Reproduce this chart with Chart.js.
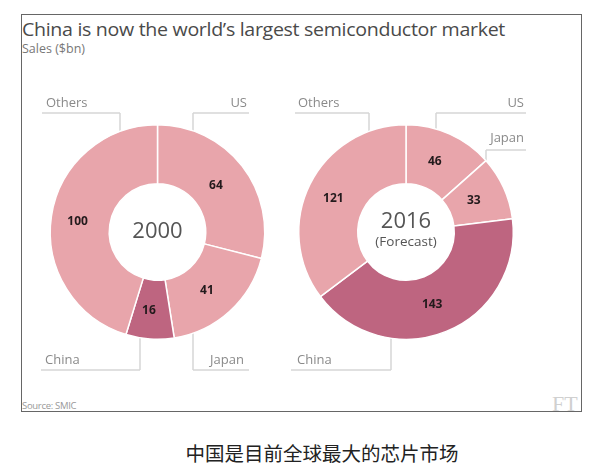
<!DOCTYPE html>
<html>
<head>
<meta charset="utf-8">
<script src="https://cdn.jsdelivr.net/npm/chart.js@4/dist/chart.umd.min.js"></script>
<style>
  html,body{margin:0;padding:0;background:#fff;}
  body{width:600px;height:468px;position:relative;overflow:hidden;font-family:"Open Sans",sans-serif;}
  #box{position:absolute;left:21px;top:14px;width:559px;height:396px;border:1.5px solid #666;box-sizing:content-box;}
  .t{position:absolute;white-space:nowrap;}
  #title{left:22px;top:16px;font-size:19px;color:#4a4a4a;transform-origin:0 0;letter-spacing:-0.3px;}
  #sub{left:22px;top:40px;font-size:12.5px;color:#777;}
  #src{left:22px;top:399px;font-size:9.5px;color:#999;letter-spacing:-0.3px;}
  #ft{left:552px;top:391px;font-family:"Liberation Serif",serif;font-size:22px;color:#d0d0d0;}
  #cap{left:0;width:644px;text-align:center;top:438px;font-family:"Noto Sans CJK SC",sans-serif;font-size:19.5px;color:#222;}
  canvas{position:absolute;top:0;}
</style>
</head>
<body>
<div id="box"></div>
<div class="t" id="title">China is now the world’s largest semiconductor market</div>
<div class="t" id="sub">Sales ($bn)</div>
<div class="t" id="src">Source: SMIC</div>
<div class="t" id="ft">FT</div>
<div class="t" id="cap">中国是目前全球最大的芯片市场</div>
<canvas id="c1" width="290" height="468" style="left:0"></canvas>
<canvas id="c2" width="310" height="468" style="left:290px"></canvas>
<script>
// ---- data ----
const regions = ["US", "Japan", "China", "Others"];
const sales2000 = [64, 41, 16, 100];
const sales2016 = [46, 33, 143, 121];
const centerText2000 = ["2000"];
const centerText2016 = ["2016", "(Forecast)"];

const LIGHT = "#e8a5ab";
const DARK = "#be6580";
const colors = regions.map(r => r === "China" ? DARK : LIGHT);

// fit title width
(function(){
  const t = document.getElementById("title");
  const w = t.getBoundingClientRect().width;
  t.style.transform = "scaleX(" + (483 / w) + ")";
})();

// label annotation layout (text position, underline, vertical leader x)
const layout1 = [
  {name:"Others", tx:46, ty:103, align:"left", lx0:42, lx1:120, ly:113, vx:120, dir:1},
  {name:"US", tx:247, ty:103, align:"right", lx0:193, lx1:249, ly:113, vx:193, dir:1},
  {name:"China", tx:45, ty:360, align:"left", lx0:41, lx1:140, ly:370, vx:140, dir:-1},
  {name:"Japan", tx:210, ty:360, align:"left", lx0:193, lx1:249, ly:370, vx:193, dir:-1}
];
const layout2 = [
  {name:"Others", tx:298, ty:103, align:"left", lx0:295, lx1:369, ly:113, vx:369, dir:1},
  {name:"US", tx:524, ty:103, align:"right", lx0:436, lx1:526, ly:113, vx:436, dir:1},
  {name:"Japan", tx:524, ty:138, align:"right", lx0:486, lx1:526, ly:150, vx:486, dir:1},
  {name:"China", tx:297, ty:360, align:"left", lx0:291, lx1:391, ly:370, vx:391, dir:-1}
];

const annot = {
  id: "annot",
  beforeDatasetsDraw(chart, args, opts) {
    const ctx = chart.ctx;
    const arc = chart.getDatasetMeta(0).data[0];
    const cx = arc.x, cy = arc.y, R = arc.outerRadius;
    const off = opts.offsetX;
    ctx.save();
    ctx.strokeStyle = "#d6d6d6";
    ctx.lineWidth = 1.5;
    ctx.font = "13px 'Open Sans', sans-serif";
    ctx.fillStyle = "#8a8a8a";
    ctx.textBaseline = "middle";
    opts.items.forEach(it => {
      const vx = it.vx - off;
      const dx = vx - cx;
      const depth = Math.sqrt(Math.max(R*R - dx*dx, 0)) - 6;
      const ey = cy - it.dir * depth;
      ctx.beginPath();
      ctx.moveTo(it.lx0 - off, it.ly);
      ctx.lineTo(it.lx1 - off, it.ly);
      ctx.moveTo(vx, it.ly);
      ctx.lineTo(vx, ey);
      ctx.stroke();
      ctx.textAlign = it.align;
      ctx.fillText(it.name, it.tx - off, it.ty);
    });
    ctx.restore();
  },
  afterDatasetsDraw(chart, args, opts) {
    const ctx = chart.ctx;
    const meta = chart.getDatasetMeta(0);
    const data = chart.data.datasets[0].data;
    ctx.save();
    ctx.textAlign = "center";
    ctx.textBaseline = "middle";
    ctx.fillStyle = "#231a1c";
    ctx.font = "bold 12px 'Open Sans', sans-serif";
    meta.data.forEach((a, i) => {
      const p = a.tooltipPosition();
      ctx.fillText(String(data[i]), p.x - 3, p.y + 1);
    });
    const arc = meta.data[0];
    ctx.fillStyle = "#555";
    const lines = opts.center;
    if (lines.length === 1) {
      ctx.font = "22px 'Open Sans', sans-serif";
      ctx.fillText(lines[0], arc.x, arc.y);
    } else {
      ctx.font = "22px 'Open Sans', sans-serif";
      ctx.fillText(lines[0], arc.x, arc.y - 10);
      ctx.font = "13.5px 'Open Sans', sans-serif";
      ctx.fillText(lines[1], arc.x, arc.y + 10);
    }
    ctx.restore();
  }
};

function makeChart(id, values, pad, items, offsetX, center) {
  return new Chart(document.getElementById(id), {
    type: "doughnut",
    data: {
      labels: regions,
      datasets: [{
        data: values,
        backgroundColor: colors,
        borderColor: "#ffffff",
        borderWidth: 1.5
      }]
    },
    options: {
      responsive: false,
      animation: false,
      cutout: "45%",
      layout: { padding: pad },
      plugins: {
        legend: { display: false },
        tooltip: { enabled: false },
        annot: { items: items, offsetX: offsetX, center: center }
      }
    },
    plugins: [annot]
  });
}

makeChart("c1", sales2000, {left:49.5, right:24.5, top:124, bottom:128}, layout1, 0, centerText2000);
makeChart("c2", sales2016, {left:8, right:86, top:124, bottom:128}, layout2, 290, centerText2016);
</script>
</body>
</html>
